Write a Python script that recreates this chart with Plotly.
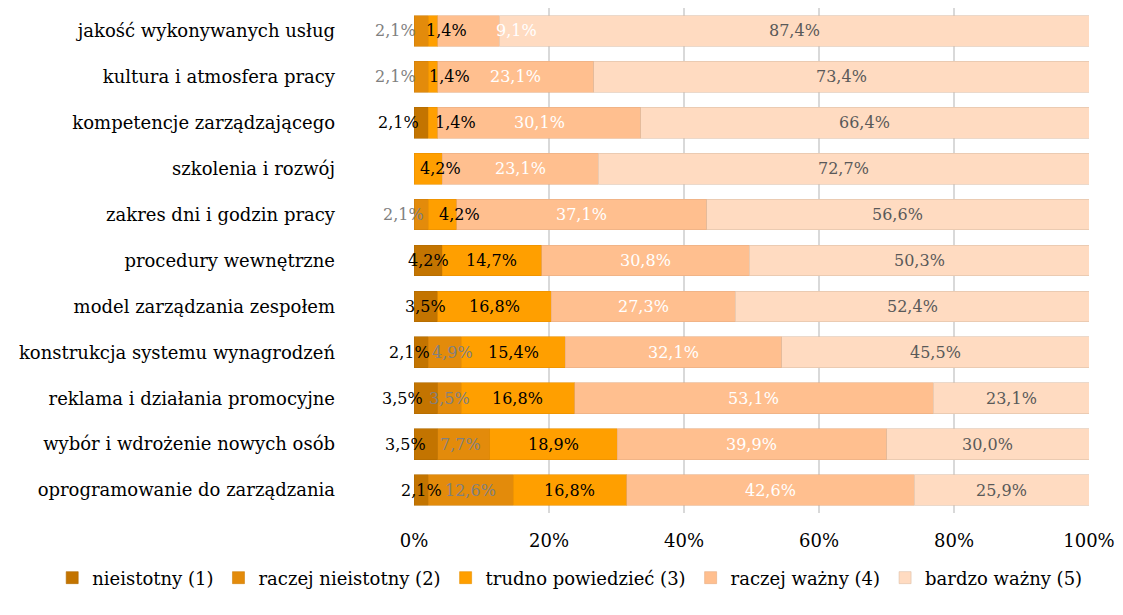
import plotly.graph_objects as go

# Survey: importance of workplace factors (share of answers, %)
categories = [
    "jakość wykonywanych usług",
    "kultura i atmosfera pracy",
    "kompetencje zarządzającego",
    "szkolenia i rozwój",
    "zakres dni i godzin pracy",
    "procedury wewnętrzne",
    "model zarządzania zespołem",
    "konstrukcja systemu wynagrodzeń",
    "reklama i działania promocyjne",
    "wybór i wdrożenie nowych osób",
    "oprogramowanie do zarządzania",
]

series_names = [
    "nieistotny (1)",
    "raczej nieistotny (2)",
    "trudno powiedzieć (3)",
    "raczej ważny (4)",
    "bardzo ważny (5)",
]

nieistotny = [0, 0, 2.1, 0, 0, 4.2, 3.5, 2.1, 3.5, 3.5, 2.1]
raczej_nieistotny = [2.1, 2.1, 0, 0, 2.1, 0, 0, 4.9, 3.5, 7.7, 12.6]
trudno_powiedziec = [1.4, 1.4, 1.4, 4.2, 4.2, 14.7, 16.8, 15.4, 16.8, 18.9, 16.8]
raczej_wazny = [9.1, 23.1, 30.1, 23.1, 37.1, 30.8, 27.3, 32.1, 53.1, 39.9, 42.6]
bardzo_wazny = [87.4, 73.4, 66.4, 72.7, 56.6, 50.3, 52.4, 45.5, 23.1, 30.0, 25.9]

x_ticks = [0, 20, 40, 60, 80, 100]
x_tick_labels = ["0%", "20%", "40%", "60%", "80%", "100%"]

series_values = [nieistotny, raczej_nieistotny, trudno_powiedziec, raczej_wazny, bardzo_wazny]

fill_colors = ["#C37400", "#E38B0B", "#FF9F00", "#FFBF8F", "#FFDBC1"]
edge_colors = ["#B06A00", "#CF7F0A", "#E89000", "#E8AD82", "#DDBFA8"]
label_colors = ["#000000", "#808080", "#000000", "#FFFFFF", "#595959"]

# pixel nudges for labels that would collide on thin segments: (row, series) -> xshift
label_nudge = {
    (0, 1): -26, (0, 2): 14, (0, 3): 48,
    (1, 1): -26, (1, 2): 17,
    (2, 0): -23, (2, 2): 23,
    (3, 2): 12,
    (4, 1): -18, (4, 2): 17,
    (7, 0): -12, (7, 1): 8,
    (8, 0): -23,
    (9, 0): -20, (9, 1): -3,
}

font_family = "DejaVu Serif"

fig = go.Figure()
for name, vals, fc, ec in zip(series_names, series_values, fill_colors, edge_colors):
    fig.add_trace(go.Bar(
        y=categories,
        x=vals,
        name=name,
        orientation="h",
        marker=dict(color=fc, line=dict(color=ec, width=0.6)),
        hoverinfo="x+y+name",
    ))

annotations = []
for r, cat in enumerate(categories):
    start = 0.0
    for s, vals in enumerate(series_values):
        v = vals[r]
        if v > 0:
            annotations.append(dict(
                x=start + v / 2,
                y=cat,
                xref="x",
                yref="y",
                text=f"{v:.1f}%".replace(".", ","),
                showarrow=False,
                xshift=label_nudge.get((r, s), 0),
                font=dict(family=font_family, size=16, color=label_colors[s]),
            ))
        start += v

fig.update_layout(
    barmode="stack",
    bargap=0.33,
    width=1123,
    height=615,
    margin=dict(l=414, r=34, t=8, b=102, autoexpand=False),
    paper_bgcolor="white",
    plot_bgcolor="white",
    font=dict(family=font_family, size=16, color="#000000"),
    annotations=annotations,
    showlegend=True,
    legend=dict(
        orientation="h",
        x=-0.536,
        xanchor="left",
        y=-0.1286,
        yanchor="middle",
        font=dict(family=font_family, size=18, color="#000000"),
        traceorder="normal",
        itemwidth=30,
    ),
    xaxis=dict(
        range=[0, 100],
        tickvals=x_ticks,
        ticktext=x_tick_labels,
        showgrid=True,
        gridcolor="#D9D9D9",
        gridwidth=1.5,
        zeroline=False,
        showline=False,
        ticks="",
        ticklabelstandoff=15,
        tickfont=dict(family=font_family, size=18, color="#000000"),
        fixedrange=True,
    ),
    yaxis=dict(
        categoryorder="array",
        categoryarray=categories,
        autorange="reversed",
        showgrid=False,
        ticks="",
        ticklabelstandoff=78,
        tickfont=dict(family=font_family, size=18, color="#000000"),
        fixedrange=True,
    ),
)

fig.write_html("out.html")
